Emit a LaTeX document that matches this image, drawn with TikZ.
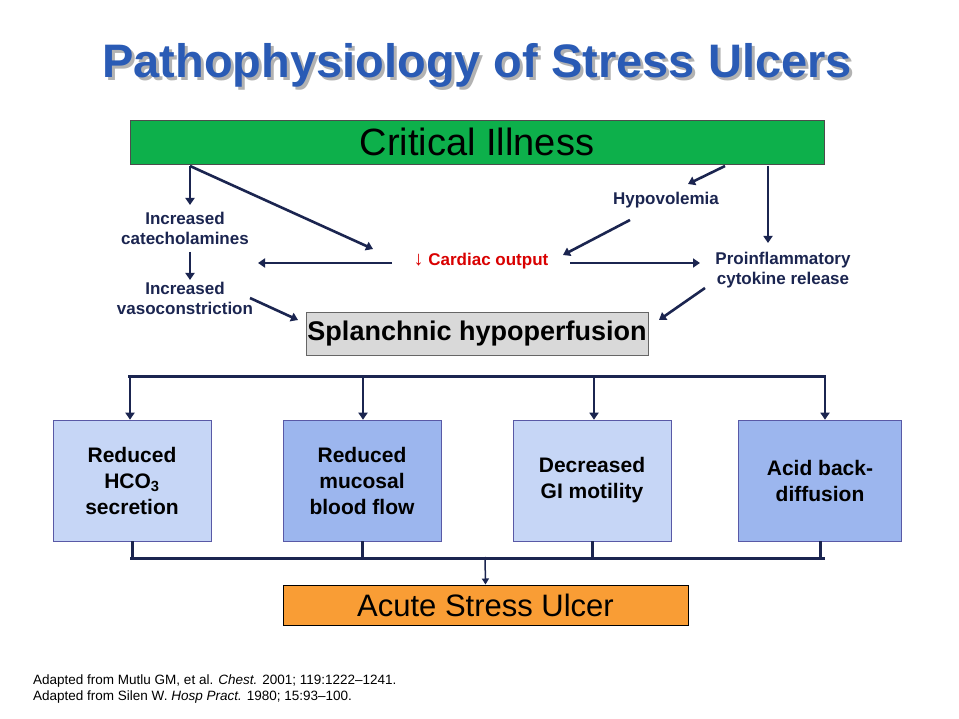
\documentclass[tikz,border=0pt]{standalone}
\usepackage{fontspec}
\setmainfont{Liberation Sans}
\usetikzlibrary{arrows.meta}
\definecolor{navy}{HTML}{1B2550}
\definecolor{ttl}{HTML}{2A5BB5}
\definecolor{lb}{HTML}{C6D6F6}
\definecolor{db}{HTML}{9CB6EE}
\definecolor{gr}{HTML}{0DB04B}
\definecolor{org}{HTML}{F99D35}
\begin{document}
\begin{tikzpicture}[x=1pt,y=-1pt,
 lab/.style={text=navy,font=\bfseries\fontsize{17}{20}\selectfont,align=center,inner sep=0},
 arr/.style={draw=navy,line width=2.6pt,-{Triangle[length=7pt,width=9pt]}},
 ln/.style={draw=navy,line width=3pt},
 box/.style={draw=gray!70!blue,line width=0.6pt,minimum width=158pt,minimum height=121pt,align=center,text=black,font=\bfseries\fontsize{21}{26}\selectfont}]
\useasboundingbox[fill=white] (0,0) rectangle (959,719);
\node[text=gray!60,font=\bfseries\fontsize{47}{54}\selectfont] at (480,68) {Pathophysiology of Stress Ulcers};
\node (title) [text=ttl,font=\bfseries\fontsize{47}{54}\selectfont] at (477,65) {Pathophysiology of Stress Ulcers};
\node (ci) [draw=black!70,fill=gr,minimum width=694pt,minimum height=44pt,inner sep=0,font=\fontsize{38}{42}\selectfont] at (477,142) {Critical Illness};
\node (cat) [lab] at (185,228) {Increased\\catecholamines};
\node (vas) [lab] at (185,298) {Increased\\vasoconstriction};
\node (hyp) [lab] at (666,200) {Hypovolemia};
\node (co) [text=red!85!black,font=\bfseries\fontsize{17}{20}\selectfont,inner sep=0] at (481,261) {{\fontsize{20}{20}\selectfont ↓} Cardiac output};
\node (pro) [lab] at (783,270) {Proinflammatory\\cytokine release};
\node (sp) [draw=black!60,fill=gray!30,minimum width=342pt,minimum height=43pt,inner sep=0,font=\bfseries\fontsize{27}{30}\selectfont] at (477,334) {Splanchnic hypoperfusion};
\coordinate (a1) at (190,166); \coordinate (a2) at (190,205);
\draw[arr] (a1) -- (a2);
\coordinate (b1) at (190,252); \coordinate (b2) at (190,280);
\draw[arr] (b1) -- (b2);
\coordinate (c2) at (373,249);
\draw[arr] (a1) -- (c2);
\coordinate (d1) at (725,166); \coordinate (d2) at (688,184);
\draw[arr] (d1) -- (d2);
\coordinate (e1) at (768,166); \coordinate (e2) at (768,243);
\draw[arr] (e1) -- (e2);
\coordinate (f1) at (630,220); \coordinate (f2) at (563,255);
\draw[arr] (f1) -- (f2);
\coordinate (g1) at (392,263); \coordinate (g2) at (258,263);
\draw[arr] (g1) -- (g2);
\coordinate (h1) at (570,263); \coordinate (h2) at (700,263);
\draw[arr] (h1) -- (h2);
\coordinate (i1) at (250,298); \coordinate (i2) at (298,320);
\draw[arr] (i1) -- (i2);
\coordinate (j1) at (705,288); \coordinate (j2) at (659,320);
\draw[arr] (j1) -- (j2);
\node (r1) [box,fill=lb] at (132,480.5) {Reduced\\HCO\textsubscript{3}\\secretion};
\node (r2) [box,fill=db] at (362,480.5) {Reduced\\mucosal\\blood flow};
\node (r3) [box,fill=lb] at (592,480.5) {Decreased\\GI motility};
\node (r4) [box,fill=db,minimum width=163pt] at (820,480.5) {Acid back-\\diffusion};
\coordinate (t1) at (128,377); \coordinate (t4) at (826,377);
\draw[ln] (t1) -- (t4);
\foreach \x/\n in {130/r1,363/r2,594/r3,825/r4} \draw[arr] (\x,376) -- (\n.north -| \x,0);
\coordinate (u1) at (130,558); \coordinate (u4) at (825,558);
\draw[ln] (u1) -- (u4);
\foreach \x/\n in {132/r1,362/r2,592/r3,820/r4} \draw[ln] (\n.south -| \x,0) -- (\x,558);
\node (asu) [draw=black,line width=1pt,fill=org,minimum width=405pt,minimum height=40pt,inner sep=0,font=\fontsize{31}{34}\selectfont] at (485.5,605) {Acute Stress Ulcer};
\coordinate (v1) at (485,557);
\draw[draw=navy,line width=1.5pt,-{Triangle[length=6pt,width=7pt]}] (v1) -- (asu.north);
\node (ref) [anchor=north west,align=left,font=\fontsize{13.5}{16}\selectfont,inner sep=0] at (33,675) {Adapted from Mutlu GM, et al. \textit{Chest.} 2001; 119:1222--1241.\\Adapted from Silen W. \textit{Hosp Pract.} 1980; 15:93--100.};
\end{tikzpicture}
\end{document}
